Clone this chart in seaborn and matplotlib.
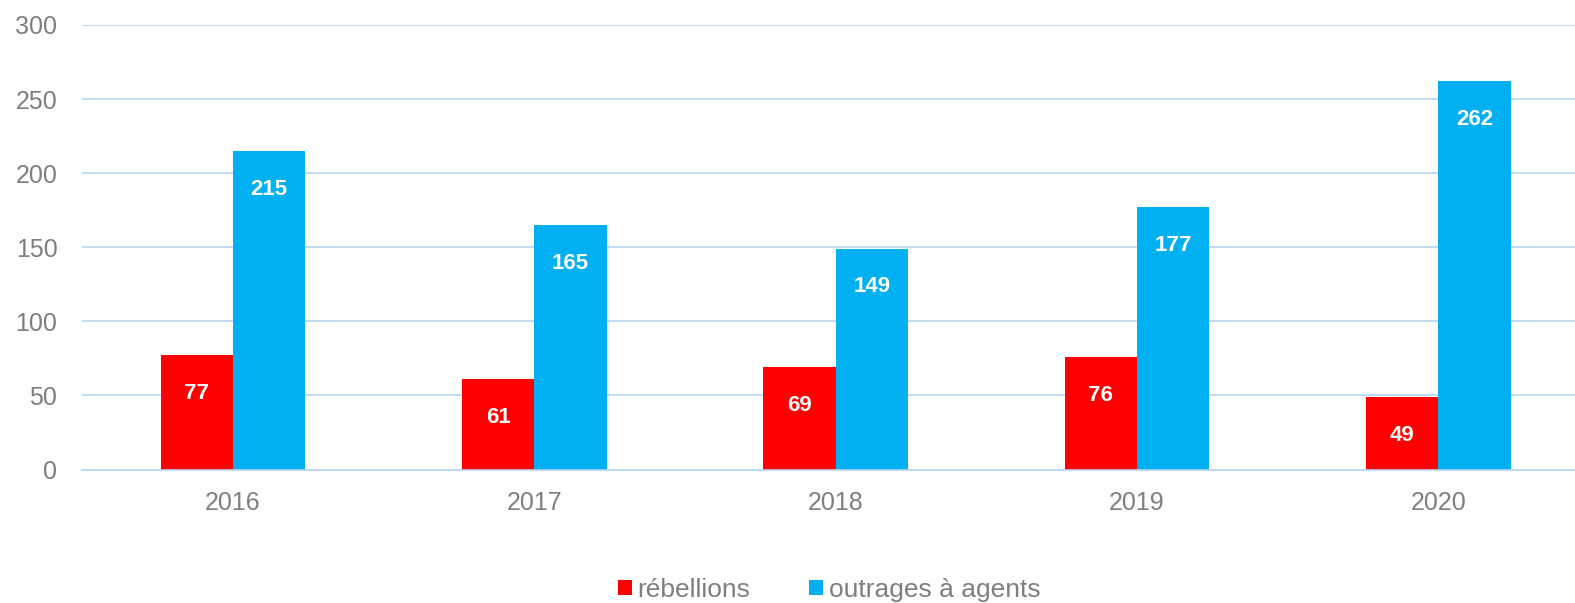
import matplotlib
matplotlib.use("Agg")
import matplotlib.pyplot as plt
import seaborn as sns
import pandas as pd
from matplotlib.patches import Patch

years = ["2016", "2017", "2018", "2019", "2020"]
rebellions = [77, 61, 69, 76, 49]
outrages = [215, 165, 149, 177, 262]
series_names = ["rébellions", "outrages à agents"]
colors = ["#ff0000", "#00b0f0"]
yticks = [0, 50, 100, 150, 200, 250, 300]

df = pd.DataFrame({
    "year": years * 2,
    "value": rebellions + outrages,
    "serie": [series_names[0]] * len(years) + [series_names[1]] * len(years),
})

sns.set_theme(style="white")
plt.rcParams["font.family"] = ["Liberation Sans", "DejaVu Sans"]

W, H = 1575, 603
fig = plt.figure(figsize=(W / 100, H / 100), dpi=100)
left = 82.4 / W
ax = fig.add_axes([left, 1 - 469.5 / H, 1 - left, (469.5 - 25) / H])

sns.barplot(data=df, x="year", y="value", hue="serie", palette=colors,
            width=0.48, dodge=True, ax=ax, legend=False, saturation=1,
            linewidth=0)

for c in ax.containers:
    ax.bar_label(c, labels=[f"{int(v)}" for v in c.datavalues], padding=-35,
                 color="white", fontsize=16, fontweight="bold")

ax.set_ylim(0, 300)
ax.set_xlim(-0.5, (1575 - 233) / 301.3)
ax.set_yticks(yticks)
ax.set_yticklabels([str(v) for v in yticks])
ax.yaxis.grid(True, color="#b7d5f5", linewidth=1.2)
ax.set_axisbelow(True)
for s in ["top", "right", "left"]:
    ax.spines[s].set_visible(False)
ax.spines["bottom"].set_color("#b7d5f5")
ax.spines["bottom"].set_linewidth(1.2)
ax.tick_params(axis="both", length=0, labelsize=18, labelcolor="#7f7f7f")
ax.tick_params(axis="y", pad=18)
ax.tick_params(axis="x", pad=15.5)
ax.set_xlabel("")
ax.set_ylabel("")

handles = [Patch(facecolor=colors[i], edgecolor="none") for i in range(2)]
fig.legend(handles, series_names, loc="center", bbox_to_anchor=(829 / W, 1 - 590 / H),
           ncol=2, frameon=False, fontsize=19, labelcolor="#7f7f7f",
           handlelength=0.53, handleheight=0.5, handletextpad=0.23, columnspacing=2.2)

fig.savefig("out.png", dpi=100)
